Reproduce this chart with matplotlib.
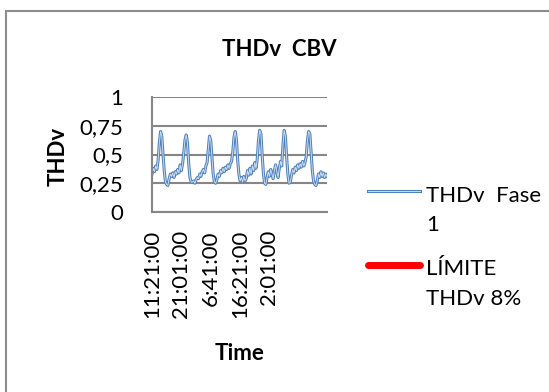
import matplotlib.pyplot as plt
import matplotlib.patheffects as pe
from matplotlib.patches import Rectangle
from matplotlib.legend_handler import HandlerLine2D
from matplotlib.transforms import Affine2D

plt.rcParams['font.family'] = ['Lato', 'DejaVu Sans']

# THDv fase 1 (leituras do gráfico)
thdv_fase1 = [
    0.33, 0.38, 0.35, 0.40, 0.37, 0.45, 0.60, 0.70, 0.66, 0.50,
    0.36, 0.26, 0.24, 0.23, 0.29, 0.33, 0.31, 0.34, 0.30, 0.35,
    0.33, 0.37, 0.34, 0.41, 0.36, 0.42, 0.52, 0.63, 0.67, 0.60,
    0.42, 0.30, 0.26, 0.26, 0.27, 0.25, 0.28, 0.30, 0.29, 0.33,
    0.31, 0.35, 0.37, 0.34, 0.40, 0.43, 0.55, 0.66, 0.62, 0.47,
    0.33, 0.26, 0.25, 0.28, 0.33, 0.31, 0.36, 0.34, 0.38, 0.35,
    0.39, 0.37, 0.41, 0.38, 0.42, 0.44, 0.52, 0.65, 0.70, 0.63,
    0.45, 0.33, 0.27, 0.30, 0.26, 0.31, 0.27, 0.29, 0.36, 0.32,
    0.38, 0.33, 0.40, 0.36, 0.43, 0.38, 0.46, 0.62, 0.71, 0.68,
    0.50, 0.34, 0.25, 0.24, 0.30, 0.35, 0.31, 0.37, 0.33, 0.29,
    0.36, 0.41, 0.35, 0.30, 0.38, 0.44, 0.40, 0.58, 0.71, 0.66,
    0.48, 0.33, 0.25, 0.26, 0.32, 0.37, 0.34, 0.39, 0.36, 0.41,
    0.38, 0.42, 0.39, 0.44, 0.40, 0.43, 0.48, 0.62, 0.70, 0.68,
    0.52, 0.36, 0.27, 0.24, 0.23, 0.27, 0.33, 0.30, 0.35, 0.31,
    0.34, 0.30, 0.33, 0.31,
]
# limite de 8% (fica fora da escala 0-1)
limite = [8] * len(thdv_fase1)

x_labels = ['11:21:00', '21:01:00', '6:41:00', '16:21:00', '2:01:00']
label_step = 24
y_ticks = [0, 0.25, 0.5, 0.75, 1]
y_labels = ['0', '0,25', '0,5', '0,75', '1']


# marcador da legenda na altura da primeira linha do texto
class HandlerPrimeiraLinha(HandlerLine2D):
    def create_artists(self, legend, orig_handle, xdescent, ydescent,
                       width, height, fontsize, trans):
        trans = Affine2D().translate(0, 14) + trans
        return super().create_artists(legend, orig_handle, xdescent, ydescent,
                                      width, height, fontsize, trans)


fig = plt.figure(figsize=(5.49, 3.92), dpi=100)
ax = fig.add_axes([152 / 549, 1 - 212 / 392, 175 / 549, 115 / 392])

x = list(range(len(thdv_fase1)))
linha, = ax.plot(x, thdv_fase1, color='#cddcf0', lw=0.7, label='THDv  Fase\n1',
                 path_effects=[pe.Stroke(linewidth=2.2, foreground='#4f81bd'), pe.Normal()])
lim, = ax.plot(x, limite, color='#ff0000', lw=5, solid_capstyle='round',
               label='LÍMITE\nTHDv 8%')

ax.set_xlim(0, len(thdv_fase1) - 1)
ax.set_ylim(0, 1)
ax.set_yticks(y_ticks)
ax.set_yticklabels(y_labels)
ax.set_xticks(range(0, label_step * len(x_labels), label_step))
ax.set_xticklabels(x_labels, rotation=90)
ax.tick_params(length=0, labelsize=16, colors='black')
ax.tick_params(axis='y', pad=21)
ax.tick_params(axis='x', pad=13)

ax.grid(axis='y', color='#868686', lw=1.5)
ax.set_axisbelow(True)
for s in ['top', 'right']:
    ax.spines[s].set_visible(False)
for s in ['left', 'bottom']:
    ax.spines[s].set_color('#868686')
    ax.spines[s].set_linewidth(1.5)

ax.set_ylabel('THDv', fontsize=16, fontweight='bold')
ax.yaxis.set_label_coords(-0.475, 0.48)
ax.set_xlabel('Time', fontsize=16, fontweight='bold')
ax.xaxis.set_label_coords(0.5, -1.135)

fig.text(279.5 / 549, 1 - 49 / 392, 'THDv  CBV', fontsize=16, fontweight='bold',
         ha='center', va='center')

leg = fig.legend(handles=[linha, lim], loc='upper left',
                 bbox_to_anchor=(359 / 549, 1 - 177 / 392), frameon=False,
                 fontsize=16, handlelength=2.35, handletextpad=0.27, labelspacing=1.1,
                 borderaxespad=0, borderpad=0.4,
                 handler_map={linha: HandlerPrimeiraLinha(), lim: HandlerPrimeiraLinha()})
for t in leg.get_texts():
    t.set_linespacing(1.57)

fig.add_artist(Rectangle((6 / 549, -0.1), 2, 1 - 11 / 392 + 0.1, transform=fig.transFigure,
                         fill=False, edgecolor='#8c8c8c', lw=1.5))

fig.savefig('out.png', dpi=100)
